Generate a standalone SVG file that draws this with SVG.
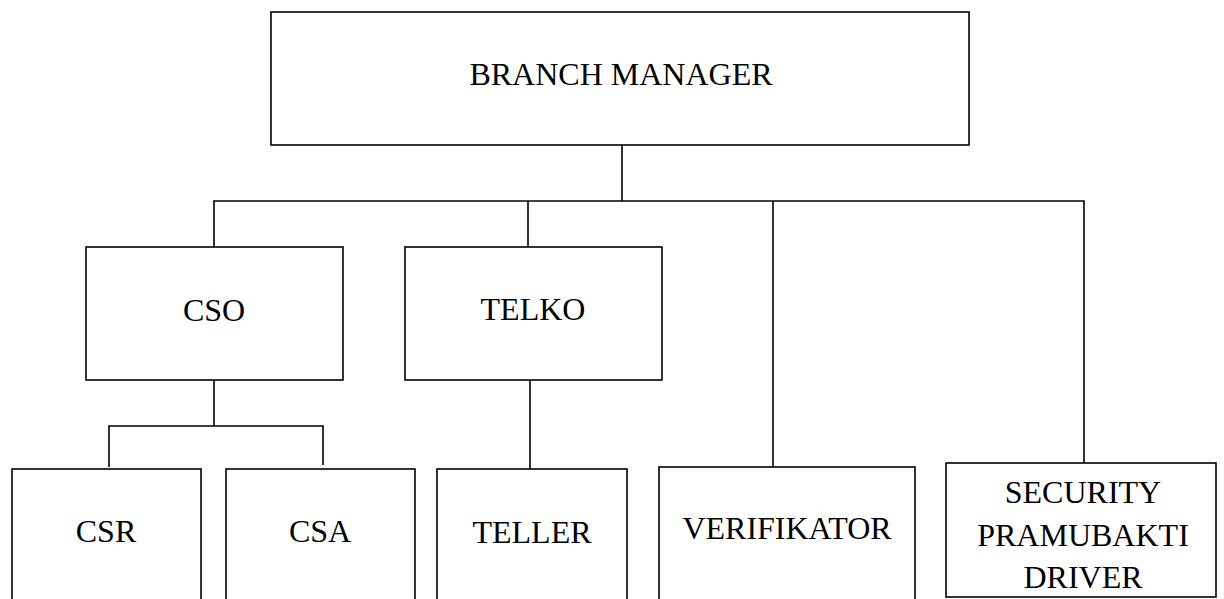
<svg xmlns="http://www.w3.org/2000/svg" width="1224" height="599" viewBox="0 0 1224 599">
<style>
.box{fill:#fff;stroke:#000;stroke-width:1.6}
.lbl{font-family:"Liberation Serif","Times New Roman",serif;font-size:32px;fill:#000;text-anchor:middle}
.con line{stroke:#000;stroke-width:1.6}
</style>
<rect width="1224" height="599" fill="#fff"/>
<g id="connectors" class="con">
<line x1="622" y1="145" x2="622" y2="201"/>
<line x1="213.2" y1="201" x2="1084.8" y2="201"/>
<line x1="214" y1="201" x2="214" y2="247"/>
<line x1="528" y1="201" x2="528" y2="247"/>
<line x1="773" y1="201" x2="773" y2="467"/>
<line x1="1084" y1="201" x2="1084" y2="463"/>
<line x1="214" y1="380" x2="214" y2="426"/>
<line x1="108.2" y1="426" x2="323.8" y2="426"/>
<line x1="109" y1="426" x2="109" y2="467"/>
<line x1="323" y1="426" x2="323" y2="465"/>
<line x1="530" y1="380" x2="530" y2="469"/>
</g>
<g id="branch-manager"><rect class="box" x="271" y="12" width="698" height="133"/><text class="lbl" x="621" y="85">BRANCH MANAGER</text></g>
<g id="cso"><rect class="box" x="86" y="247" width="257" height="133"/><text class="lbl" x="214" y="321">CSO</text></g>
<g id="telko"><rect class="box" x="405" y="247" width="257" height="133"/><text class="lbl" x="533" y="320">TELKO</text></g>
<g id="csr"><rect class="box" x="12" y="469" width="189" height="140"/><text class="lbl" x="106" y="542">CSR</text></g>
<g id="csa"><rect class="box" x="226" y="469" width="189" height="140"/><text class="lbl" x="320" y="542">CSA</text></g>
<g id="teller"><rect class="box" x="437" y="469" width="190" height="140"/><text class="lbl" x="532" y="543">TELLER</text></g>
<g id="verifikator"><rect class="box" x="659" y="467" width="256" height="142"/><text class="lbl" x="787" y="539">VERIFIKATOR</text></g>
<g id="security"><rect class="box" x="946" y="463" width="270" height="134"/><text class="lbl" x="1083" y="503">SECURITY</text><text class="lbl" x="1083" y="546">PRAMUBAKTI</text><text class="lbl" x="1083" y="588">DRIVER</text></g>
</svg>
